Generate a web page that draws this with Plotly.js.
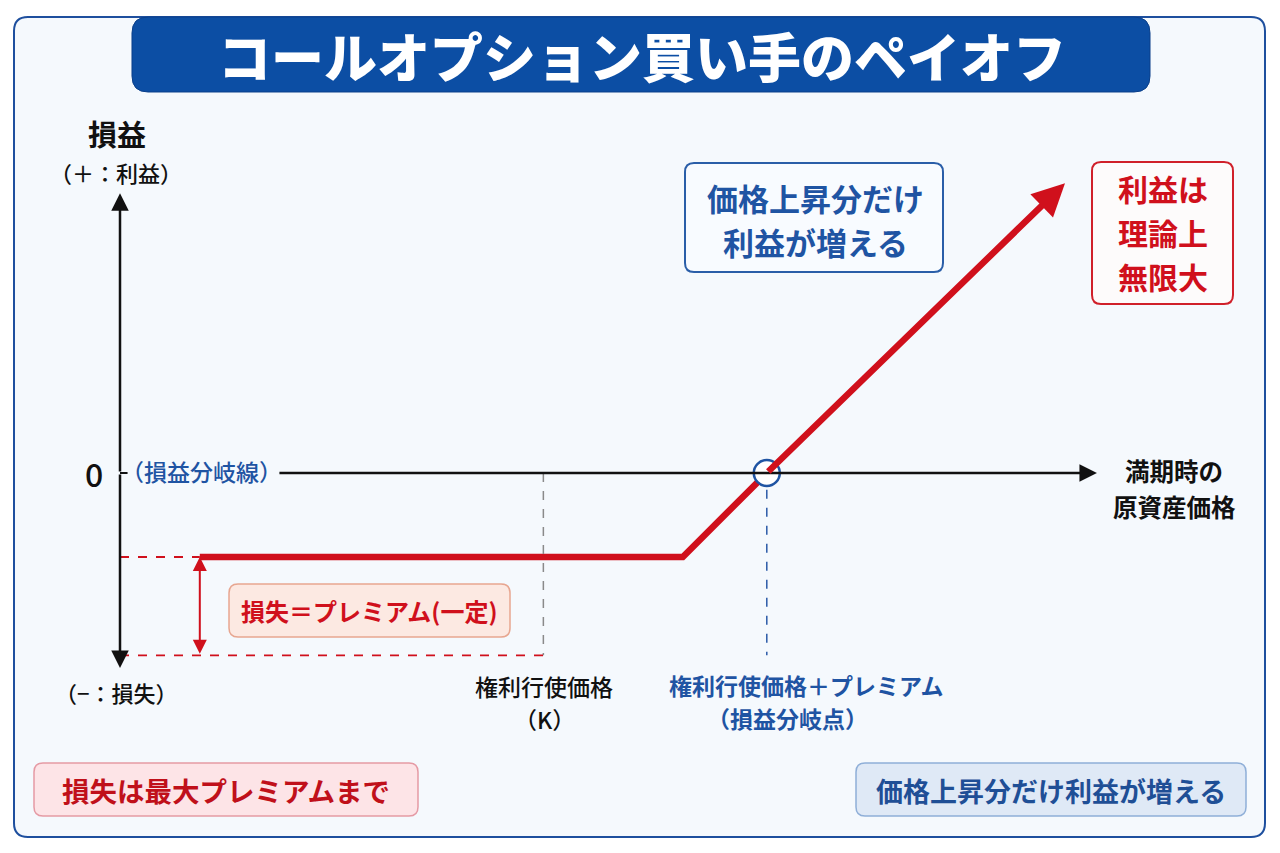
<!DOCTYPE html>
<html>
<head>
<meta charset="utf-8">
<script src="https://cdn.plot.ly/plotly-3.0.1.min.js"></script>
<style>html,body{margin:0;padding:0;background:#fff;}#chart{width:1280px;height:853px;}</style>
</head>
<body>
<div id="chart"></div>
<script>
// ---- chart values (price units on x, profit/loss units on y) ----
const payoffPrice = [9.5, 67, 77];        // flat loss segment then rise to break-even
const payoffPnL   = [-10, -10, 0];
const upsidePrice = [77, 112.5];          // rising profit segment with arrow
const upsidePnL   = [0, 34.5];
const premiumPnL  = [-10];                // loss = premium
const floorPnL    = [-21.7];              // bottom of guide lines
const strikePrice = [50.4];               // K
const breakEvenPrice = [77];
const yAxisEnds = [33.3, -23.2];
const xAxisEnds = [18.8, 116.3];

const FONT = 'Noto Sans CJK JP, Noto Sans, sans-serif';
const W = 1280, H = 853;
const px = x => x / W;
const py = y => 1 - y / H;

function rr(x0, y0, x1, y1, r) {
  const P = (x, y) => px(x).toFixed(5) + ',' + py(y).toFixed(5);
  return 'M' + P(x0 + r, y0) + 'L' + P(x1 - r, y0) + 'Q' + P(x1, y0) + ' ' + P(x1, y0 + r) +
    'L' + P(x1, y1 - r) + 'Q' + P(x1, y1) + ' ' + P(x1 - r, y1) +
    'L' + P(x0 + r, y1) + 'Q' + P(x0, y1) + ' ' + P(x0, y1 - r) +
    'L' + P(x0, y0 + r) + 'Q' + P(x0, y0) + ' ' + P(x0 + r, y0) + 'Z';
}
function box(x0, y0, x1, y1, r, fill, line, lw) {
  return {type: 'path', xref: 'paper', yref: 'paper', path: rr(x0, y0, x1, y1, r),
    fillcolor: fill, line: {color: line, width: lw}, layer: 'below'};
}
function txt(text, x, y, size, color, weight, xanchor) {
  return {xref: 'paper', yref: 'paper', x: px(x), y: py(y), text: text, showarrow: false,
    xanchor: xanchor || 'center', yanchor: 'middle',
    font: {family: FONT, size: size, color: color, weight: weight || 400}};
}

const RED = '#d0101c', BLUE = '#1f54a3', BLACK = '#111';

const traces = [
  {x: payoffPrice, y: payoffPnL, mode: 'lines', line: {color: RED, width: 6.5}, hoverinfo: 'skip'},
  {x: breakEvenPrice, y: [0], mode: 'markers', hoverinfo: 'skip',
   marker: {size: 26, color: '#ffffff', line: {color: BLUE, width: 2.5}}}
];

const shapes = [
  box(14, 17, 1265, 837, 14, '#f5f9fd', '#1e4f9e', 2),
  box(132, 17, 1150, 92, 16, '#0c4ea4', '#0a3f8a', 1),
  box(685, 163, 943, 272, 9, '#f8fbff', '#2a5ea8', 2),
  box(1092, 162, 1233, 304, 9, '#fdfbfb', '#d0202a', 2),
  box(229, 584, 510, 637, 9, '#fce9e2', '#e7a690', 1.5),
  box(34, 763, 418, 816, 9, '#fde4e7', '#e59aa4', 1.5),
  box(856, 763, 1246, 816, 9, '#dfe9f6', '#8fafd8', 1.5),
  // zero tick
  {type: 'line', xref: 'x', yref: 'y', x0: 0, x1: 0.9, y0: 0, y1: 0, line: {color: BLACK, width: 2}},
  // guides
  {type: 'line', xref: 'x', yref: 'y', x0: strikePrice[0], x1: strikePrice[0], y0: 0, y1: floorPnL[0],
   line: {color: '#8a8a8a', width: 1.5, dash: 'dash'}},
  {type: 'line', xref: 'x', yref: 'y', x0: breakEvenPrice[0], x1: breakEvenPrice[0], y0: -2, y1: floorPnL[0],
   line: {color: '#2a5aa8', width: 1.5, dash: 'dash'}},
  {type: 'line', xref: 'x', yref: 'y', x0: 0, x1: payoffPrice[0], y0: premiumPnL[0], y1: premiumPnL[0],
   line: {color: RED, width: 1.8, dash: 'dash'}},
  {type: 'line', xref: 'x', yref: 'y', x0: 0, x1: strikePrice[0], y0: floorPnL[0], y1: floorPnL[0],
   line: {color: RED, width: 1.8, dash: 'dash'}}
];

const arrow = (x, y, ax, ay, color, w, size) => ({
  x: x, y: y, ax: ax, ay: ay, xref: 'x', yref: 'y', axref: 'x', ayref: 'y', text: '',
  showarrow: true, arrowhead: 2, arrowsize: size, arrowwidth: w, arrowcolor: color, standoff: 0
});

const annotations = [
  // axes
  arrow(0, yAxisEnds[0], 0, 0, BLACK, 2.5, 1.4),
  arrow(0, yAxisEnds[1], 0, 0, BLACK, 2.5, 1.4),
  arrow(xAxisEnds[1], 0, xAxisEnds[0], 0, BLACK, 2.5, 1.4),
  // upside payoff arrow
  arrow(upsidePrice[1], upsidePnL[1], upsidePrice[0], upsidePnL[0], RED, 6.5, 1),
  // premium double arrow
  Object.assign(arrow(payoffPrice[0], premiumPnL[0], payoffPrice[0], floorPnL[0], RED, 2, 1.4),
    {arrowside: 'end+start', startarrowhead: 2, startarrowsize: 1.4}),
  // texts
  txt('コールオプション買い手のペイオフ', 642, 55, 53, '#ffffff', 900),
  txt('損益', 117, 133, 29, BLACK, 700),
  txt('（＋：利益）', 116, 172, 22, BLACK, 500),
  txt('0', 94, 473, 32, BLACK, 500),
  txt('（損益分岐線）', 119, 471, 23, BLUE, 500, 'left'),
  txt('（−：損失）', 116, 692, 22, BLACK, 500),
  txt('満期時の', 1174, 470, 24.5, BLACK, 700),
  txt('原資産価格', 1174, 506, 24.5, BLACK, 700),
  txt('権利行使価格', 544, 686, 23, BLACK, 500),
  txt('（K）', 544, 719, 23, BLACK, 500),
  txt('権利行使価格＋プレミアム', 806, 685, 23, BLUE, 700),
  txt('（損益分岐点）', 787, 718, 23, BLUE, 700),
  txt('損失＝プレミアム(一定)', 369, 610, 24, RED, 700),
  txt('価格上昇分だけ', 815, 197, 31, BLUE, 700),
  txt('利益が増える', 815, 241, 31, BLUE, 700),
  txt('利益は', 1163, 188, 30, RED, 700),
  txt('理論上', 1163, 232, 30, RED, 700),
  txt('無限大', 1163, 276, 30, RED, 700),
  txt('損失は最大プレミアムまで', 226, 790, 27.5, '#c0101a', 700),
  txt('価格上昇分だけ利益が増える', 1051, 790, 27, '#1f4f96', 700)
];

const layout = {
  width: W, height: H, margin: {l: 0, r: 0, t: 0, b: 0},
  paper_bgcolor: '#ffffff', plot_bgcolor: 'rgba(0,0,0,0)',
  showlegend: false,
  xaxis: {range: [-120 / 8.4, 1160 / 8.4], visible: false, fixedrange: true},
  yaxis: {range: [-380 / 8.4, 473 / 8.4], visible: false, fixedrange: true},
  shapes: shapes, annotations: annotations
};
Plotly.newPlot('chart', traces, layout, {staticPlot: true, displayModeBar: false});
</script>
</body>
</html>
